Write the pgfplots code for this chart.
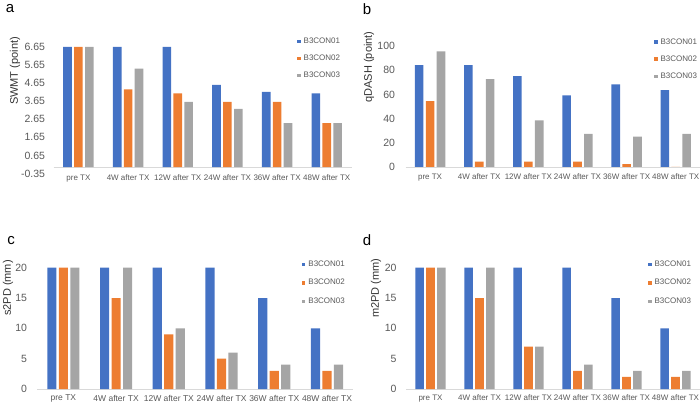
\documentclass[border=0pt]{standalone}
\usepackage{fontspec}
\setmainfont{Liberation Sans}
\usepackage{pgfplots}
\usepackage{pgfplotstable}
\pgfplotsset{compat=1.18}

\definecolor{c1}{HTML}{4472C4}
\definecolor{c2}{HTML}{ED7D31}
\definecolor{c3}{HTML}{A5A5A5}
\definecolor{txt}{HTML}{595959}
\definecolor{axl}{HTML}{D9D9D9}

% x: 0 = pre TX, 1..5 = 4W..48W after TX
\pgfplotstableread{
x  a    b    c
0  6.65 6.65 6.65
1  6.65 4.31 5.46
2  6.65 4.08 3.61
3  4.56 3.61 3.22
4  4.17 3.61 2.44
5  4.08 2.44 2.44
}\swmt
\pgfplotstableread{
x  a    b    c
0  84.1 54.5 95.5
1  84.1 4.5  72.7
2  75.0 4.5  38.6
3  59.1 4.5  27.3
4  68.2 2.3  25.0
5  63.6 0    27.3
}\qdash
\pgfplotstableread{
x  a  b  c
0  20 20 20
1  20 15 20
2  20 9  10
3  20 5  6
4  15 3  4
5  10 3  4
}\stwopd
\pgfplotstableread{
x  a  b  c
0  20 20 20
1  20 15 20
2  20 7  7
3  20 3  4
4  15 2  3
5  10 2  3
}\mtwopd

\pgfplotsset{
  panel/.style={
    scale only axis, anchor=south west,
    ybar=2.3pt, bar width=8.6pt,
    xmin=-0.5, xmax=5.5, xtick={0,...,5},
    xticklabels={pre TX,4W after TX,12W after TX,24W after TX,36W after TX,48W after TX},
    enlargelimits=false,
    axis line style={draw=none},
    major tick length=0pt,
    tick label style={text=txt},
    xticklabel style={font=\fontsize{8}{10}\selectfont},
    yticklabel style={font=\fontsize{10.5}{12}\selectfont},
    /pgf/number format/assume math mode=true,
    extra y ticks={0}, extra y tick labels={},
    extra y tick style={grid=major, major grid style={draw=axl, line width=0.8pt}},
    legend image code/.code={\fill[##1] (0pt,-1.7pt) rectangle (3.4pt,1.7pt);},
    legend cell align=left,
    legend style={draw=none, fill=none, anchor=north west,
      font=\fontsize{8}{9.6}\selectfont, text=txt, inner sep=0pt,
      row sep=6pt, column sep=1pt},
  },
}

\begin{document}
\begin{tikzpicture}
\path[use as bounding box] (0pt,0pt) rectangle (700pt,404pt);

% a
\begin{axis}[panel, at={(53.6pt,230.5pt)}, width=298pt, height=126.5pt,
  ymin=-0.35, ymax=6.65,
  ytick={-0.35,0.65,1.65,2.65,3.65,4.65,5.65,6.65},
  yticklabel style={/pgf/number format/fixed, /pgf/number format/fixed zerofill,
    /pgf/number format/precision=2, xshift=-5pt},
  xticklabel style={yshift=2pt},
  legend style={at={(axis description cs:0.817,1.09)}}]
\addplot[fill=c1, draw=none] table[x=x,y=a] {\swmt};
\addplot[fill=c2, draw=none] table[x=x,y=b] {\swmt};
\addplot[fill=c3, draw=none] table[x=x,y=c] {\swmt};
\legend{B3CON01,B3CON02,B3CON03}
\end{axis}

% b
\begin{axis}[panel, at={(405.5pt,237pt)}, width=294.8pt, height=121pt,
  ymin=0, ymax=100, ytick={0,20,...,100},
  yticklabel style={xshift=-7pt},
  xticklabel style={yshift=-3pt},
  legend style={at={(axis description cs:0.843,1.08)}}]
\addplot[fill=c1, draw=none] table[x=x,y=a] {\qdash};
\addplot[fill=c2, draw=none] table[x=x,y=b] {\qdash};
\addplot[fill=c3, draw=none] table[x=x,y=c] {\qdash};
\legend{B3CON01,B3CON02,B3CON03}
\end{axis}

% c
\begin{axis}[panel, at={(37pt,15pt)}, width=316.4pt, height=121.3pt,
  ymin=0, ymax=20, ytick={0,5,...,20}, bar width=9.2pt,
  yticklabel style={xshift=-6.5pt},
  xticklabel style={yshift=-2.5pt, font=\fontsize{8.5}{10}\selectfont},
  legend style={at={(axis description cs:0.837,1.076)}, row sep=7.5pt}]
\addplot[fill=c1, draw=none] table[x=x,y=a] {\stwopd};
\addplot[fill=c2, draw=none] table[x=x,y=b] {\stwopd};
\addplot[fill=c3, draw=none] table[x=x,y=c] {\stwopd};
\legend{B3CON01,B3CON02,B3CON03}
\end{axis}

% d
\begin{axis}[panel, at={(406pt,15pt)}, width=294pt, height=121.3pt,
  ymin=0, ymax=20, ytick={0,5,...,20},
  yticklabel style={xshift=-6pt},
  xticklabel style={yshift=-2.5pt},
  legend style={at={(axis description cs:0.823,1.076)}, row sep=7.5pt}]
\addplot[fill=c1, draw=none] table[x=x,y=a] {\mtwopd};
\addplot[fill=c2, draw=none] table[x=x,y=b] {\mtwopd};
\addplot[fill=c3, draw=none] table[x=x,y=c] {\mtwopd};
\legend{B3CON01,B3CON02,B3CON03}
\end{axis}

% panel letters and axis titles
\node[font=\fontsize{15}{18}\selectfont] at (10pt,395pt) {a};
\node[font=\fontsize{15}{18}\selectfont] at (367pt,395pt) {b};
\node[font=\fontsize{15}{18}\selectfont] at (11pt,163pt) {c};
\node[font=\fontsize{15}{18}\selectfont] at (367pt,164pt) {d};
\node[rotate=90, font=\fontsize{11}{13}\selectfont, text=black!80] at (15pt,333pt) {SWMT (point)};
\node[rotate=90, font=\fontsize{11}{13}\selectfont, text=black!80] at (369pt,337pt) {qDASH (point)};
\node[rotate=90, font=\fontsize{11}{13}\selectfont, text=black!80] at (8pt,116pt) {s2PD (mm)};
\node[rotate=90, font=\fontsize{11}{13}\selectfont, text=black!80] at (376pt,116pt) {m2PD (mm)};
\end{tikzpicture}
\end{document}
